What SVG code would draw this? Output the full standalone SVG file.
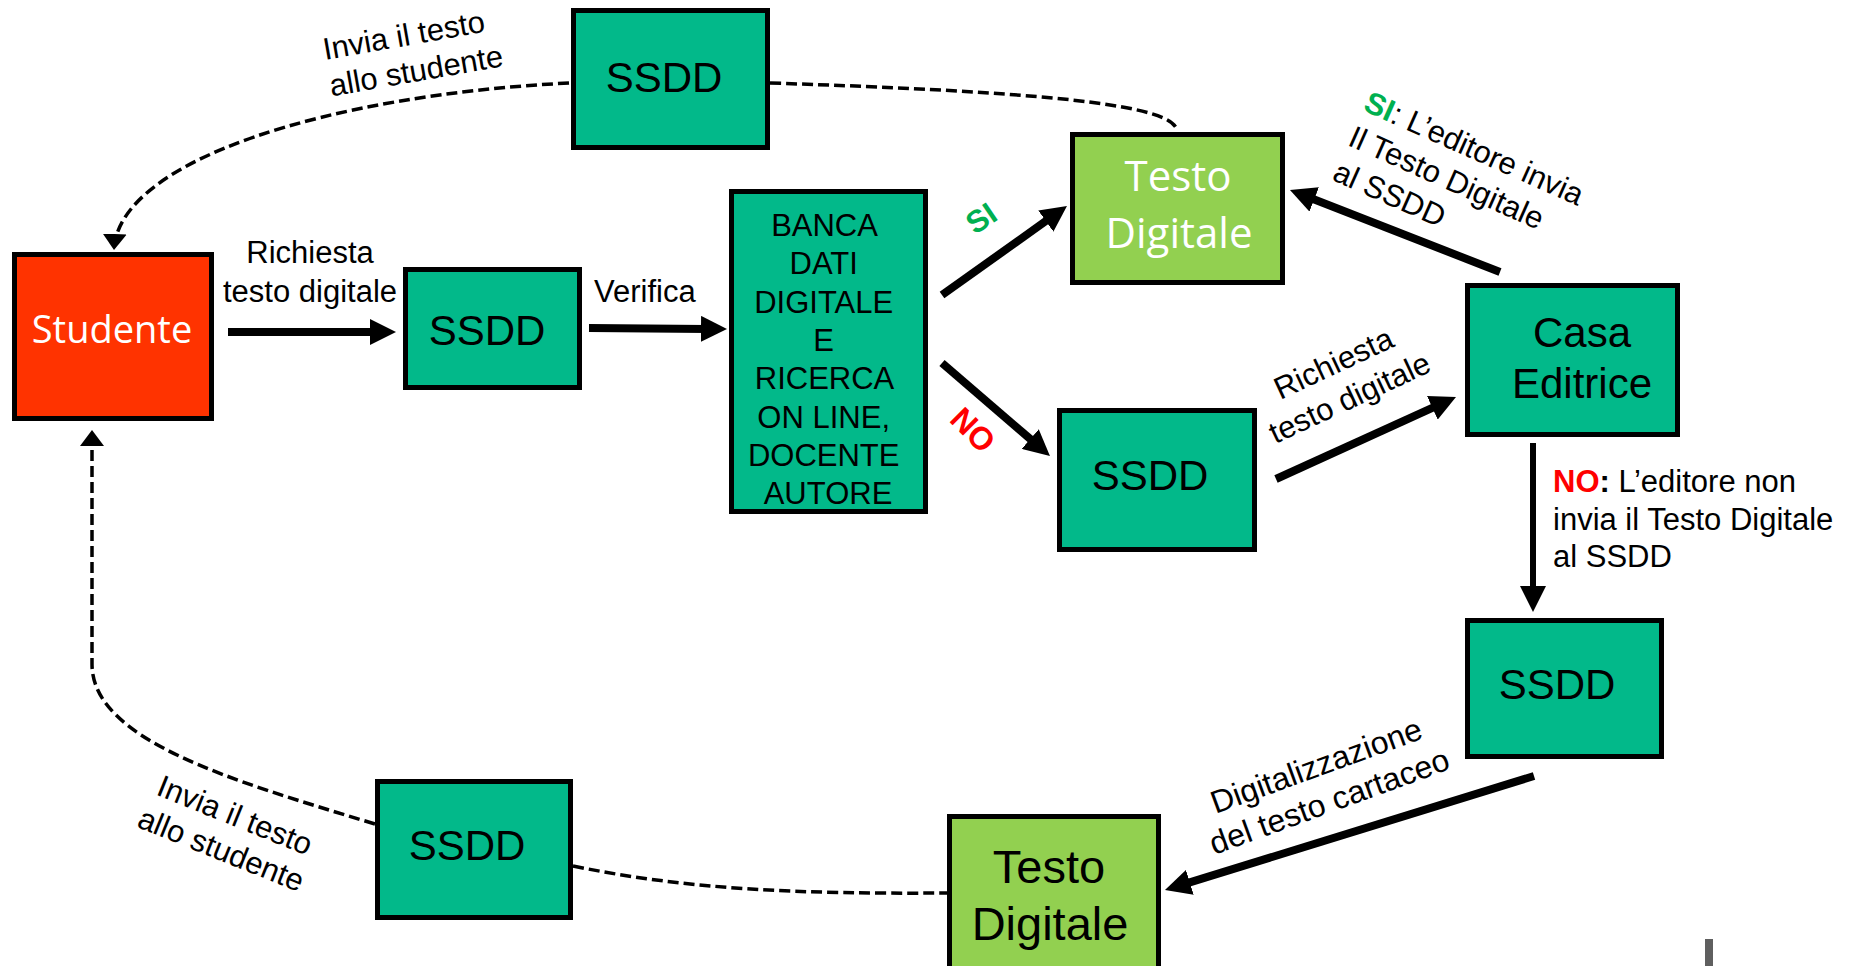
<svg xmlns="http://www.w3.org/2000/svg" width="1853" height="966" viewBox="0 0 1853 966">
<style>
.box{stroke:#000;stroke-width:5}
.teal{fill:#02B98A}
.lg{fill:#92D050}
.red{fill:#FF3300}
.bt{font-family:"Liberation Sans",Arial,sans-serif;font-size:42px;fill:#000;text-anchor:middle}
.wt{font-family:"Open Sans","Liberation Sans",sans-serif;fill:#fff;text-anchor:middle}
.lb{font-family:"Liberation Sans",Arial,sans-serif;font-size:31px;fill:#000}
.mid{text-anchor:middle}
.arr{stroke:#000;stroke-width:8;fill:none}
.dash{stroke:#000;stroke-width:3.5;fill:none;stroke-dasharray:11 5}
.gs{fill:#00B050;font-weight:bold}
.rn{fill:#FF0000;font-weight:bold}
</style>
<defs>
<marker id="ah" markerUnits="userSpaceOnUse" markerWidth="26" markerHeight="26" viewBox="0 0 26 26" refX="6" refY="13" orient="auto">
<path d="M0,0 L26,13 L0,26 z" fill="#000"/>
</marker>
<marker id="dh" markerUnits="userSpaceOnUse" markerWidth="16" markerHeight="24" viewBox="0 0 16 24" refX="16" refY="12" orient="auto">
<path d="M0,0 L16,12 L0,24 z" fill="#000"/>
</marker>
</defs>
<rect width="1853" height="966" fill="#fff"/>

<g id="connectors">
<line class="arr" x1="228" y1="332" x2="376" y2="332" marker-end="url(#ah)"/>
<line class="arr" x1="589" y1="328" x2="707" y2="328.9" marker-end="url(#ah)"/>
<line class="arr" x1="942" y1="295" x2="1050.7" y2="217.6" marker-end="url(#ah)"/>
<line class="arr" x1="942" y1="363" x2="1034.8" y2="442.9" marker-end="url(#ah)"/>
<line class="arr" x1="1276" y1="479" x2="1437.8" y2="405.3" marker-end="url(#ah)"/>
<line class="arr" x1="1500" y1="272" x2="1308.6" y2="197.3" marker-end="url(#ah)"/>
<line class="arr" style="stroke-width:6" x1="1533" y1="443" x2="1533" y2="592" marker-end="url(#ah)"/>
<line class="arr" x1="1534" y1="776" x2="1184.1" y2="884.1" marker-end="url(#ah)"/>
<path class="dash" d="M770,83 C1050,92 1175,105 1177,131"/>
<path class="dash" d="M569,83 C330,95 118,160 114,250" marker-end="url(#dh)"/>
<path class="dash" d="M375,824 C230,780 92,740 92,664 L92,430" marker-end="url(#dh)"/>
<path class="dash" d="M573,866 C690,890 800,894 947,893"/>
</g>

<g id="studente">
<rect class="box red" x="14.5" y="254.5" width="197" height="164"/>
<text class="wt" x="112" y="343" font-size="38">Studente</text>
</g>
<g id="ssdd-top">
<rect class="box teal" x="573.5" y="10.5" width="194" height="137"/>
<text class="bt" x="664" y="92">SSDD</text>
</g>
<g id="ssdd-1">
<rect class="box teal" x="405.5" y="269.5" width="174" height="118"/>
<text class="bt" x="487" y="345">SSDD</text>
</g>
<g id="banca">
<rect class="box teal" x="731.5" y="191.5" width="194" height="320"/>
<text class="lb mid" x="828">
<tspan x="828" y="236">BANCA</tspan>
<tspan x="828" y="274.3">DATI</tspan>
<tspan x="828" y="312.6">DIGITALE</tspan>
<tspan x="828" y="350.9">E</tspan>
<tspan x="828" y="389.2">RICERCA</tspan>
<tspan x="828" y="427.5">ON LINE,</tspan>
<tspan x="828" y="465.8">DOCENTE</tspan>
<tspan x="828" y="504.1">AUTORE</tspan>
</text>
</g>
<g id="testo-top">
<rect class="box lg" x="1072.5" y="134.5" width="210" height="148"/>
<text class="wt" font-size="42"><tspan x="1178" y="191">Testo</tspan><tspan x="1179" y="248">Digitale</tspan></text>
</g>
<g id="ssdd-mid">
<rect class="box teal" x="1059.5" y="410.5" width="195" height="139"/>
<text class="bt" x="1150" y="490">SSDD</text>
</g>
<g id="casa">
<rect class="box teal" x="1467.5" y="285.5" width="210" height="149"/>
<text class="bt"><tspan x="1582" y="347">Casa</tspan><tspan x="1582" y="398">Editrice</tspan></text>
</g>
<g id="ssdd-right">
<rect class="box teal" x="1467.5" y="620.5" width="194" height="136"/>
<text class="bt" x="1557" y="699">SSDD</text>
</g>
<g id="testo-bottom">
<rect class="box lg" x="949.5" y="816.5" width="209" height="200"/>
<text class="bt" style="font-size:47px"><tspan x="1049" y="883">Testo</tspan><tspan x="1050" y="940">Digitale</tspan></text>
</g>
<g id="ssdd-bottom">
<rect class="box teal" x="377.5" y="781.5" width="193" height="136"/>
<text class="bt" x="467" y="860">SSDD</text>
</g>

<g id="labels">
<text class="lb mid"><tspan x="310" y="263">Richiesta</tspan><tspan x="310" y="302">testo digitale</tspan></text>
<text class="lb" x="594" y="302">Verifica</text>
<text class="lb" transform="translate(325,60) rotate(-10)"><tspan x="0" y="0">Invia il testo</tspan><tspan x="0" y="37">allo studente</tspan></text>
<text class="lb mid" transform="translate(231,825) rotate(22)"><tspan x="0" y="0">Invia il testo</tspan><tspan x="0" y="37">allo studente</tspan></text>
<text class="lb gs" style="font-size:31px" text-anchor="middle" transform="translate(981,218) rotate(-34)" y="11">SI</text>
<text class="lb rn" style="font-size:32px" text-anchor="middle" transform="translate(973,430) rotate(45)" y="11">NO</text>
<text class="lb" transform="translate(1362,110) rotate(24)"><tspan x="0" y="0"><tspan class="gs">SI</tspan>: L’editore invia</tspan><tspan x="0" y="38">Il Testo Digitale</tspan><tspan x="0" y="76">al SSDD</tspan></text>
<text class="lb mid" transform="translate(1338,373) rotate(-25)"><tspan x="0" y="0">Richiesta</tspan><tspan x="0" y="38">testo digitale</tspan></text>
<text class="lb"><tspan x="1553" y="492"><tspan class="rn">NO</tspan><tspan font-weight="bold">:</tspan> L’editore non</tspan><tspan x="1553" y="530">invia il Testo Digitale</tspan><tspan x="1553" y="567">al SSDD</tspan></text>
<text class="lb mid" style="font-size:32px" transform="translate(1320,776) rotate(-20)"><tspan x="0" y="0">Digitalizzazione</tspan><tspan x="0" y="38">del testo cartaceo</tspan></text>
</g>
<rect x="1705" y="939" width="8" height="27" fill="#5f5f5f"/>
</svg>
